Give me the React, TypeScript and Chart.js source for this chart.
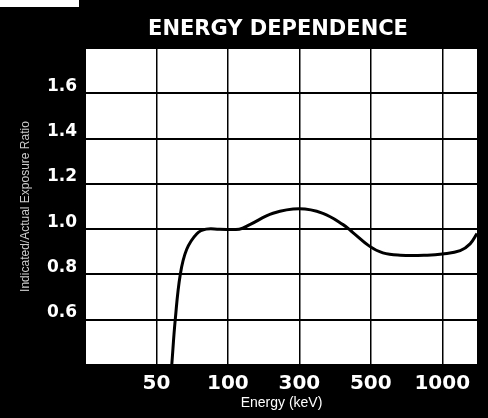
import React, { useEffect, useRef } from "react";
import { Chart, registerables } from "chart.js";

Chart.register(...registerables);

// Tick energies (keV) shown on the x axis, equally spaced on the original chart
const tickEnergies = [50, 100, 300, 500, 1000];
// Curve: energy (keV) and indicated/actual exposure ratio
const curveEnergy = [58, 60, 63, 67, 74, 81, 92, 119, 140, 200, 300, 355, 410, 440, 495, 562, 665, 865, 1000, 1190, 1310, 1400];
const curveRatio = [0.40, 0.60, 0.80, 0.91, 0.98, 1.0, 1.0, 1.0, 1.02, 1.07, 1.09, 1.07, 1.02, 0.985, 0.925, 0.895, 0.885, 0.885, 0.89, 0.905, 0.935, 0.98];
const yTickLabels = ["0.6", "0.8", "1.0", "1.2", "1.4", "1.6"];
const titleText = "ENERGY DEPENDENCE";
const xTitle = "Energy (keV)";
const yTitle = "Indicated/Actual Exposure Ratio";

function energyToPos(e: number): number {
  const t = tickEnergies;
  let i = 0;
  if (e <= t[0]) i = 0;
  else if (e >= t[t.length - 1]) i = t.length - 2;
  else {
    while (e > t[i + 1]) i++;
  }
  const f = Math.log(e / t[i]) / Math.log(t[i + 1] / t[i]);
  return i + 1 + f;
}

export default function App() {
  const ref = useRef<HTMLCanvasElement | null>(null);
  useEffect(() => {
    if (!ref.current) return;
    const bgPlugin = {
      id: "bg",
      beforeDraw(chart: any) {
        const { ctx, chartArea: a, width, height } = chart;
        ctx.save();
        ctx.fillStyle = "#000";
        ctx.fillRect(0, 0, width, height);
        ctx.fillStyle = "#fff";
        ctx.fillRect(0, 0, 79, 7);
        ctx.fillRect(a.left, a.top, a.right - a.left, a.bottom - a.top);
        ctx.restore();
      },
      afterDraw(chart: any) {
        const { ctx } = chart;
        ctx.save();
        ctx.fillStyle = "#fff";
        ctx.font = "bold 21px 'DejaVu Sans'";
        ctx.textAlign = "center";
        ctx.textBaseline = "middle";
        ctx.fillText(titleText, 278, 30);
        ctx.restore();
      },
    };
    const xMax = tickEnergies.length + 0.5;
    const chart = new Chart(ref.current, {
      type: "line",
      data: {
        datasets: [
          {
            data: curveEnergy.map((e, i) => ({ x: energyToPos(e), y: curveRatio[i] })),
            borderColor: "#000",
            borderWidth: 3,
            pointRadius: 0,
            tension: 0.4,
            fill: false,
          },
        ],
      },
      options: {
        animation: false,
        responsive: false,
        devicePixelRatio: 1,
        layout: { padding: { left: 0, right: 10, top: 48, bottom: 0 } },
        plugins: { legend: { display: false }, tooltip: { enabled: false }, title: { display: false } },
        scales: {
          x: {
            type: "linear",
            min: 0,
            max: xMax,
            afterFit: (s: any) => {
              s.height = 53;
            },
            afterBuildTicks: (s: any) => {
              const ticks = [{ value: 0 }];
              tickEnergies.forEach((_, i) => ticks.push({ value: i + 1 }));
              ticks.push({ value: xMax });
              s.ticks = ticks;
            },
            ticks: {
              autoSkip: false,
              maxRotation: 0,
              color: "#fff",
              padding: 7,
              font: { family: "'DejaVu Sans'", weight: "bold", size: 20 },
              callback: (v: any) => {
                const n = Number(v);
                return Number.isInteger(n) && n >= 1 && n <= tickEnergies.length ? String(tickEnergies[n - 1]) : "";
              },
            },
            grid: { color: "#000", lineWidth: 1.5, drawTicks: false },
            border: { color: "#000", width: 2 },
            title: {
              display: true,
              text: xTitle,
              color: "#fff",
              font: { family: "'Liberation Sans', Arial", size: 14 },
              padding: { top: 0, bottom: 6 },
            },
          },
          y: {
            type: "linear",
            min: 0.4,
            max: 1.8,
            afterFit: (s: any) => {
              s.width = 85;
            },
            ticks: {
              stepSize: 0.2,
              color: "#fff",
              padding: 8,
              labelOffset: -7,
              font: { family: "'DejaVu Sans'", weight: "bold", size: 17 },
              callback: (v: any) => {
                const s = Number(v).toFixed(1);
                return yTickLabels.includes(s) ? s : "";
              },
            },
            grid: { color: "#000", lineWidth: 2, drawTicks: false },
            border: { color: "#000", width: 2 },
            title: {
              display: true,
              text: yTitle,
              color: "#cccccc",
              font: { family: "'Liberation Sans', Arial", size: 12 },
              padding: { top: 18, bottom: 0 },
            },
          },
        },
      },
      plugins: [bgPlugin],
    } as any);
    return () => chart.destroy();
  }, []);
  return (
    <div style={{ position: "fixed", left: 0, top: 0, width: 488, height: 418, background: "#000" }}>
      <canvas ref={ref} width={488} height={418} style={{ display: "block", width: 488, height: 418 }} />
    </div>
  );
}
